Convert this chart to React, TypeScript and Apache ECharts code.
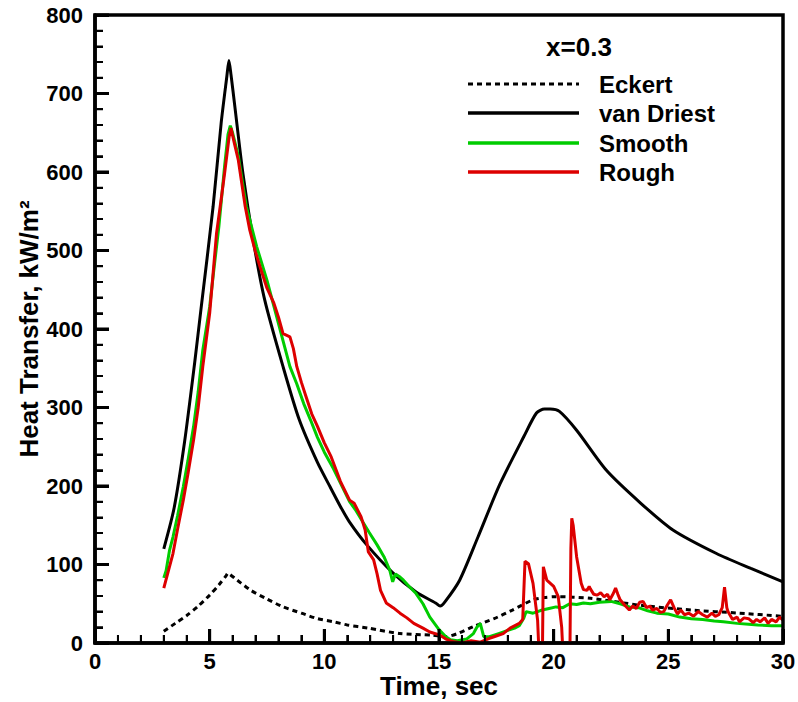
import React, { useEffect, useRef } from "react";
import * as echarts from "echarts";

const FONT = '"Liberation Sans", Arial, Helvetica, sans-serif';

const seriesNames = ["Eckert", "van Driest", "Smooth", "Rough"];
const seriesColors = ["#000000", "#000000", "#00CC00", "#DD0000"];
const titleText = "x=0.3";
const xAxisTitle = "Time, sec";
const yAxisTitle = "Heat Transfer, kW/m²";

const xMin = 0, xMax = 30, xStep = 5, xMinorStep = 1;
const yMin = 0, yMax = 800, yStep = 100, yMinorStep = 20;

const eckertT = [3.0, 3.5, 4.0, 4.5, 5.0, 5.4, 5.7, 5.8, 5.9, 6.2, 6.8, 7.5, 8.2, 9.0, 9.7, 10.4, 11.0, 11.9, 13.3, 14.7, 15.3, 15.8, 16.5, 17.4, 18.2, 19.1, 19.6, 20.1, 21.6, 23.8, 26.0, 28.1, 30.0];
const eckertV = [15, 25, 35, 47, 61, 74, 85, 89, 87, 80, 67, 56, 46, 38, 31, 27, 23, 19, 12, 10, 8, 12, 21, 31, 42, 55, 58, 59, 57, 48, 42, 38, 34];

const vanDriestT = [3.0, 3.45, 3.9, 4.35, 4.62, 5.15, 5.5, 5.75, 5.84, 5.93, 6.1, 6.45, 6.9, 7.4, 8.2, 8.9, 9.7, 10.25, 10.7, 11.1, 11.85, 13.0, 14.0, 14.85, 15.05, 15.25, 15.9, 16.7, 17.65, 18.7, 19.25, 19.6, 19.85, 20.25, 21.0, 22.3, 23.8, 25.2, 27.1, 28.6, 30.0];
const vanDriestV = [120, 172, 255, 358, 425, 556, 662, 722, 742, 724, 683, 598, 513, 437, 352, 285, 230, 199, 174, 154, 125, 89, 65, 51, 47, 52, 80, 135, 202, 263, 293, 298, 298, 295, 271, 220, 178, 144, 114, 95, 78];

const smoothT = [3.0, 3.1, 3.25, 3.4, 3.6, 3.85, 4.05, 4.3, 4.5, 4.7, 5.0, 5.2, 5.4, 5.65, 5.8, 5.9, 6.0, 6.25, 6.6, 7.05, 7.5, 7.9, 8.2, 8.5, 8.8, 9.1, 9.4, 9.7, 10.0, 10.4, 10.8, 11.1, 11.35, 11.6, 11.95, 12.3, 12.6, 12.85, 12.98, 13.1, 13.3, 13.45, 13.7, 14.0, 14.3, 14.6, 15.0, 15.3, 15.5, 15.8, 16.2, 16.5, 16.65, 16.8, 16.95, 17.2, 17.6, 18.0, 18.3, 18.5, 18.7, 18.8, 19.1, 19.3, 19.5, 19.8, 20.1, 20.4, 20.7, 21.0, 21.3, 21.6, 22.0, 22.5, 22.9, 23.3, 23.7, 24.1, 24.5, 25.0, 25.5, 26.0, 26.5, 27.0, 27.4, 28.0, 28.5, 28.9, 29.5, 30.0];
const smoothV = [83, 92, 118, 135, 162, 199, 232, 276, 320, 373, 428, 480, 530, 607, 648, 659, 650, 620, 556, 505, 462, 418, 385, 352, 330, 305, 284, 262, 243, 222, 198, 180, 170, 158, 141, 125, 110, 93, 78, 88, 84, 80, 72, 63, 50, 33, 17, 8, 4, 3, 5, 12, 20, 25, 8, 8, 12, 16, 19, 22, 32, 40, 38, 40, 42, 44, 46, 45, 50, 49, 51, 50, 52, 53, 50, 46, 45, 41, 38, 37, 33, 31, 30, 28, 27, 25, 24, 23, 22, 22];

const roughT = [3.0, 3.2, 3.4, 3.6, 3.85, 4.05, 4.3, 4.5, 4.7, 5.0, 5.3, 5.5, 5.65, 5.85, 5.93, 6.05, 6.25, 6.55, 6.75, 7.0, 7.2, 7.5, 7.8, 8.0, 8.2, 8.5, 8.65, 8.8, 9.0, 9.2, 9.45, 9.7, 10.0, 10.3, 10.7, 11.1, 11.3, 11.6, 11.78, 11.92, 12.15, 12.3, 12.45, 12.7, 13.0, 13.3, 13.6, 13.9, 14.3, 14.6, 15.05, 15.3, 15.6, 16.0, 16.4, 16.8, 17.2, 17.4, 17.8, 18.1, 18.5, 18.65, 18.75, 18.9, 19.1, 19.3, 19.4, 19.5, 19.55, 19.7, 20.0, 20.2, 20.35, 20.45, 20.7, 20.75, 20.79, 20.85, 21.0, 21.2, 21.3, 21.45, 21.55, 21.6, 21.75, 21.9, 22.05, 22.2, 22.35, 22.45, 22.6, 22.7, 22.8, 22.9, 23.1, 23.3, 23.45, 23.6, 23.75, 23.9, 24.05, 24.2, 24.3, 24.5, 24.65, 24.8, 24.95, 25.1, 25.25, 25.4, 25.55, 25.7, 25.9, 26.1, 26.3, 26.5, 26.7, 26.9, 27.05, 27.2, 27.35, 27.45, 27.55, 27.6, 27.8, 28.0, 28.1, 28.3, 28.5, 28.7, 28.85, 29.0, 29.2, 29.35, 29.5, 29.7, 29.85, 30.0];
const roughV = [70, 92, 114, 145, 182, 215, 259, 300, 352, 420, 522, 565, 598, 645, 656, 640, 615, 556, 526, 498, 479, 452, 433, 415, 394, 390, 375, 352, 332, 314, 292, 276, 255, 237, 206, 182, 178, 161, 144, 116, 106, 88, 67, 51, 45, 38, 32, 25, 19, 14, 10, 5, 2, 0, 3, 1, 6, 8, 12, 19, 25, 30, 104, 101, 76, 29, -40, -40, 97, 80, 72, 59, 20, -40, -40, 120, 159, 150, 110, 76, 68, 67, 72, 69, 62, 61, 64, 59, 62, 55, 63, 70, 62, 55, 48, 42, 47, 44, 52, 53, 45, 47, 42, 44, 39, 40, 48, 55, 45, 37, 42, 36, 38, 34, 40, 36, 33, 38, 34, 36, 45, 71, 45, 40, 30, 33, 27, 32, 31, 26, 30, 27, 32, 25, 30, 27, 33, 29];

const zip = (t: number[], v: number[]) => t.map((x, i) => [x, v[i]]);

const LEG_X0 = 468;
const LEG_X1 = 579;
const LEG_TEXT_X = 599;
const LEG_Y = [84, 113, 143, 172];

const W = 798, H = 702;
const GRID = { left: 95, right: 15, top: 15, bottom: 59 };

const isMajor = (v: number, step: number) => Math.abs(v / step - Math.round(v / step)) < 1e-6;

export default function App() {
  const ref = useRef<HTMLDivElement>(null);
  useEffect(() => {
    document.body.style.margin = "0";
    const chart = echarts.init(ref.current!, null, { renderer: "svg" });
    const labelStyle = { fontSize: 22, fontWeight: "bold" as const, fontFamily: FONT, color: "#000" };
    const nameStyle = { fontSize: 26, fontWeight: "bold" as const, fontFamily: FONT, color: "#000" };
    const axisLines = {
      axisLine: { show: true, onZero: false, lineStyle: { color: "#000", width: 3.5 } },
      axisTick: { show: true, inside: true, length: 14, lineStyle: { color: "#000", width: 3 } },
      minorTick: { show: true, splitNumber: 5, length: 8, lineStyle: { color: "#000", width: 2 } },
      splitLine: { show: false },
      minorSplitLine: { show: false },
    };

    // tick lengths in data units, derived from the plot size
    const pxPerX = (W - GRID.left - GRID.right) / (xMax - xMin);
    const pxPerY = (H - GRID.top - GRID.bottom) / (yMax - yMin);
    const majorData: any[] = [];
    const minorData: any[] = [];
    for (let v = xMin; v <= xMax + 1e-9; v += xMinorStep) {
      const mj = isMajor(v, xStep);
      const arr = mj ? majorData : minorData;
      arr.push([v, yMin], [v, yMin + (mj ? 14 : 8) / pxPerY], "-");
    }
    for (let v = yMin; v <= yMax + 1e-9; v += yMinorStep) {
      const mj = isMajor(v, yStep);
      const arr = mj ? majorData : minorData;
      arr.push([xMin, v], [xMin + (mj ? 14 : 8) / pxPerX, v], "-");
    }
    const frameData = [[xMin, yMin], [xMax, yMin], [xMax, yMax], [xMin, yMax], [xMin, yMin]];

    const g: any[] = [];
    g.push({ type: "text", z: 60, x: 579, y: 47, style: { text: titleText, align: "center", verticalAlign: "middle", fontSize: 26, fontWeight: "bold", fontFamily: FONT, fill: "#000" } });
    seriesNames.forEach((n, i) => {
      g.push({
        type: "line",
        z: 60,
        shape: { x1: LEG_X0, y1: LEG_Y[i], x2: LEG_X1, y2: LEG_Y[i] },
        style: { stroke: seriesColors[i], lineWidth: i === 0 ? 3 : 3.5, lineDash: i === 0 ? [5, 4] : null },
      });
      g.push({
        type: "text",
        z: 60,
        x: LEG_TEXT_X,
        y: LEG_Y[i],
        style: { text: n, align: "left", verticalAlign: "middle", fontSize: 24, fontWeight: "bold", fontFamily: FONT, fill: "#000" },
      });
    });

    chart.setOption({
      animation: false,
      backgroundColor: "#fff",
      grid: { ...GRID, show: false, containLabel: false, outerBoundsMode: "none" },
      graphic: g,
      xAxis: {
        type: "value",
        min: xMin,
        max: xMax,
        interval: xStep,
        name: xAxisTitle,
        nameLocation: "middle",
        nameGap: 30,
        nameMoveOverlap: false,
        nameTextStyle: nameStyle,
        ...axisLines,
        axisLabel: { ...labelStyle, margin: 7 },
      },
      yAxis: {
        type: "value",
        min: yMin,
        max: yMax,
        interval: yStep,
        name: yAxisTitle,
        nameLocation: "middle",
        nameGap: 53,
        nameMoveOverlap: false,
        nameTextStyle: nameStyle,
        ...axisLines,
        axisLabel: { ...labelStyle, margin: 12 },
      },
      series: [
        { name: seriesNames[0], type: "line", symbol: "none", clip: true, smooth: 0.25, data: zip(eckertT, eckertV), lineStyle: { color: seriesColors[0], width: 3, type: [5, 4] }, z: 2 },
        { name: seriesNames[1], type: "line", symbol: "none", clip: true, smooth: 0.25, data: zip(vanDriestT, vanDriestV), lineStyle: { color: seriesColors[1], width: 3 }, z: 3 },
        { name: seriesNames[2], type: "line", symbol: "none", clip: true, data: zip(smoothT, smoothV), lineStyle: { color: seriesColors[2], width: 3 }, z: 4 },
        { name: seriesNames[3], type: "line", symbol: "none", clip: true, data: zip(roughT, roughV), lineStyle: { color: seriesColors[3], width: 3 }, z: 5 },
        { name: "majorTicks", type: "line", symbol: "none", clip: false, silent: true, connectNulls: false, data: majorData, lineStyle: { color: "#000", width: 3, cap: "butt" }, z: 20 },
        { name: "minorTicks", type: "line", symbol: "none", clip: false, silent: true, connectNulls: false, data: minorData, lineStyle: { color: "#000", width: 2, cap: "butt" }, z: 20 },
        { name: "frame", type: "line", symbol: "none", clip: false, silent: true, data: frameData, lineStyle: { color: "#000", width: 3.5, cap: "square", join: "miter" }, z: 21 },
      ],
    });
    return () => chart.dispose();
  }, []);
  return <div ref={ref} style={{ width: W, height: H }} />;
}
